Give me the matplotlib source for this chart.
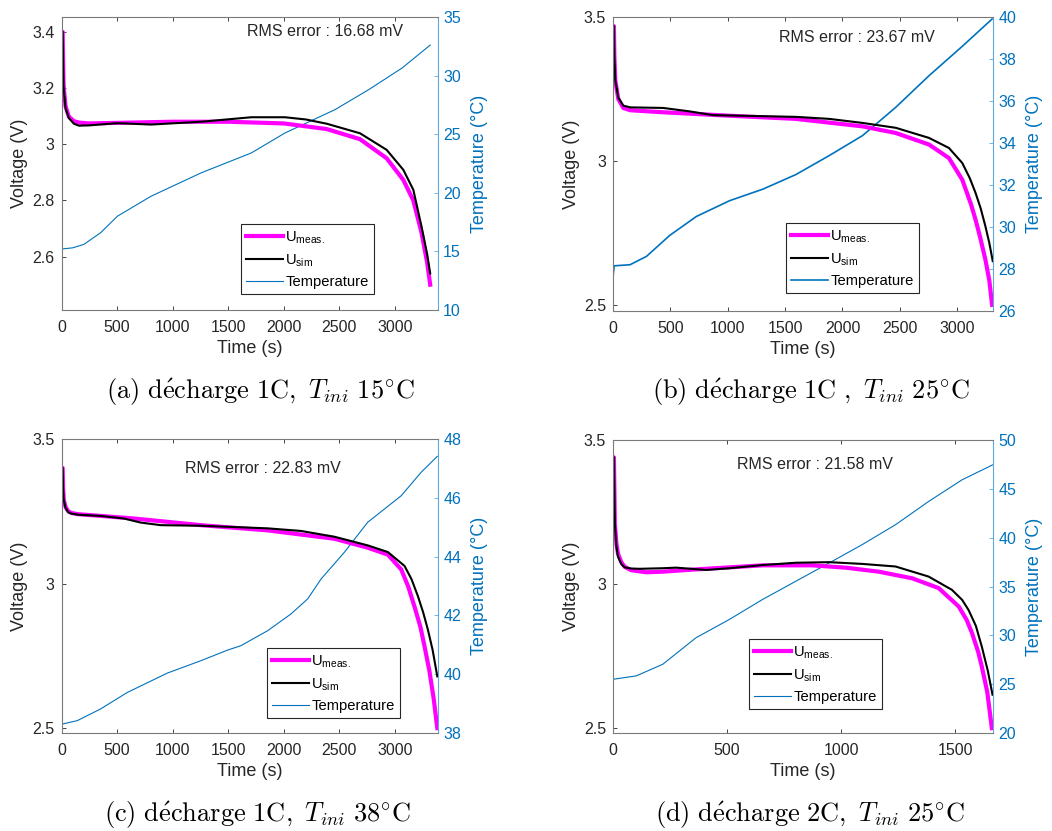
import matplotlib
matplotlib.use("Agg")
import matplotlib.pyplot as plt

plt.rcParams['font.family'] = ['Liberation Sans', 'DejaVu Sans']
plt.rcParams['mathtext.fontset'] = 'custom'
plt.rcParams['mathtext.rm'] = 'Liberation Sans'
plt.rcParams['mathtext.it'] = 'Liberation Sans:italic'

# ---- data (time in s, voltage in V, temperature in degC)
# (a) 1C, Tini 15 C
t_meas_a = [0, 10, 14, 18, 36, 66, 111, 157, 247, 500, 1000, 1500, 2000, 2386, 2686, 2926, 3076, 3166, 3240, 3290, 3318]
u_meas_a = [3.40, 3.40, 3.30, 3.21, 3.135, 3.098, 3.082, 3.077, 3.074, 3.076, 3.080, 3.080, 3.074, 3.054, 3.018, 2.95, 2.873, 2.80, 2.685, 2.58, 2.50]
t_sim_a = [0, 10, 14, 18, 36, 66, 111, 157, 247, 503, 805, 1257, 1709, 2011, 2200, 2386, 2686, 2926, 3076, 3166, 3240, 3290, 3318]
u_sim_a = [3.40, 3.40, 3.30, 3.205, 3.128, 3.093, 3.073, 3.066, 3.067, 3.075, 3.07, 3.08, 3.096, 3.096, 3.088, 3.073, 3.039, 2.98, 2.909, 2.838, 2.707, 2.61, 2.54]
t_temp_a = [0, 100, 202, 353, 503, 805, 1257, 1709, 2011, 2463, 2765, 3066, 3318]
temp_a = [15.2, 15.3, 15.6, 16.6, 18.0, 19.7, 21.7, 23.4, 25.1, 27.1, 28.8, 30.65, 32.6]

# (b) 1C, Tini 25 C
t_meas_b = [0, 8, 12, 20, 46, 90, 150, 437, 1016, 1596, 2175, 2465, 2754, 2928, 3044, 3120, 3160, 3200, 3246, 3280, 3304]
u_meas_b = [3.468, 3.468, 3.36, 3.28, 3.215, 3.184, 3.176, 3.169, 3.157, 3.146, 3.12, 3.097, 3.057, 3.01, 2.935, 2.85, 2.796, 2.735, 2.657, 2.585, 2.50]
t_sim_b = [0, 8, 12, 20, 46, 90, 150, 437, 669, 872, 1596, 1885, 2175, 2465, 2754, 2928, 3044, 3110, 3160, 3205, 3246, 3280, 3310]
u_sim_b = [3.468, 3.468, 3.36, 3.28, 3.22, 3.192, 3.186, 3.184, 3.172, 3.159, 3.153, 3.146, 3.132, 3.115, 3.08, 3.045, 2.993, 2.94, 2.889, 2.835, 2.773, 2.715, 2.652]
t_temp_b = [0, 10, 148, 292, 495, 727, 1016, 1306, 1596, 1885, 2175, 2465, 2754, 3044, 3304]
temp_b = [27.6, 28.15, 28.2, 28.6, 29.6, 30.5, 31.25, 31.8, 32.5, 33.4, 34.35, 35.7, 37.2, 38.6, 39.9]

# (c) 1C, Tini 38 C
t_meas_c = [0, 10, 14, 20, 36, 60, 90, 150, 352, 652, 1254, 1855, 2456, 2756, 2937, 3057, 3120, 3177, 3230, 3267, 3310, 3350, 3382]
u_meas_c = [3.40, 3.40, 3.33, 3.29, 3.265, 3.25, 3.244, 3.24, 3.234, 3.225, 3.202, 3.184, 3.155, 3.124, 3.10, 3.049, 2.99, 2.92, 2.85, 2.783, 2.70, 2.60, 2.50]
t_sim_c = [0, 10, 14, 20, 36, 60, 90, 150, 352, 562, 712, 893, 1254, 1855, 2155, 2456, 2756, 2937, 3087, 3150, 3207, 3255, 3297, 3340, 3382]
u_sim_c = [3.40, 3.40, 3.33, 3.29, 3.262, 3.247, 3.242, 3.238, 3.234, 3.225, 3.211, 3.202, 3.20, 3.191, 3.182, 3.162, 3.132, 3.109, 3.061, 3.015, 2.957, 2.90, 2.841, 2.77, 2.679]
t_temp_c = [0, 141, 352, 592, 953, 1254, 1494, 1614, 1855, 2065, 2215, 2336, 2546, 2756, 3057, 3237, 3382]
temp_c = [38.3, 38.42, 38.82, 39.38, 40.04, 40.46, 40.82, 40.97, 41.48, 42.05, 42.56, 43.24, 44.15, 45.17, 46.07, 46.87, 47.41]

# (d) 2C, Tini 25 C
t_meas_d = [0, 4, 6, 8, 15, 22, 37, 51, 80, 146, 218, 364, 510, 655, 874, 1019, 1165, 1311, 1427, 1515, 1550, 1573, 1600, 1616, 1640, 1660]
u_meas_d = [3.44, 3.44, 3.33, 3.21, 3.14, 3.105, 3.075, 3.06, 3.048, 3.041, 3.043, 3.051, 3.058, 3.065, 3.065, 3.057, 3.043, 3.02, 2.986, 2.922, 2.875, 2.83, 2.765, 2.714, 2.625, 2.50]
t_sim_d = [0, 4, 6, 8, 15, 22, 37, 51, 80, 117, 218, 277, 408, 510, 655, 801, 947, 1092, 1238, 1383, 1485, 1530, 1558, 1590, 1616, 1642, 1663]
u_sim_d = [3.44, 3.44, 3.33, 3.211, 3.13, 3.095, 3.069, 3.058, 3.054, 3.053, 3.055, 3.057, 3.049, 3.055, 3.066, 3.074, 3.076, 3.07, 3.061, 3.026, 2.98, 2.945, 2.91, 2.855, 2.783, 2.70, 2.616]
t_temp_d = [0, 102, 218, 364, 510, 655, 801, 947, 1092, 1238, 1383, 1529, 1663]
temp_d = [25.5, 25.85, 27.04, 29.76, 31.63, 33.67, 35.54, 37.41, 39.29, 41.33, 43.71, 45.92, 47.45]

rms_texts = ['RMS error : 16.68 mV', 'RMS error : 23.67 mV', 'RMS error : 22.83 mV', 'RMS error : 21.58 mV']
captions = [r'$\mathrm{(a)\ d\acute{e}charge\ 1C,}\ T_{ini}\ \mathrm{15^{\circ}C}$',
            r'$\mathrm{(b)\ d\acute{e}charge\ 1C\ ,}\ T_{ini}\ \mathrm{25^{\circ}C}$',
            r'$\mathrm{(c)\ d\acute{e}charge\ 1C,}\ T_{ini}\ \mathrm{38^{\circ}C}$',
            r'$\mathrm{(d)\ d\acute{e}charge\ 2C,}\ T_{ini}\ \mathrm{25^{\circ}C}$']

panels = [
    dict(tm=t_meas_a, um=u_meas_a, ts=t_sim_a, us=u_sim_a, tt=t_temp_a, T=temp_a,
         rect=[0.0585, 0.627, 0.3575, 0.3526], xlim=(0, 3385), ylim=(2.41, 3.453),
         yticks=[2.6, 2.8, 3.0, 3.2, 3.4], ylabels=['2.6', '2.8', '3', '3.2', '3.4'],
         xticks=range(0, 3001, 500), tlim=(10, 35), tticks=range(10, 36, 5),
         rms=(0.70, 0.949), leg=(241, 224), cap=(260, 392), tlw=0.8),
    dict(tm=t_meas_b, um=u_meas_b, ts=t_sim_b, us=u_sim_b, tt=t_temp_b, T=temp_b,
         rect=[0.5827, 0.6258, 0.3612, 0.3538], xlim=(0, 3312), ylim=(2.479, 3.5),
         yticks=[2.5, 3.0, 3.5], ylabels=['2.5', '3', '3.5'],
         xticks=range(0, 3001, 500), tlim=(26, 40), tticks=range(26, 41, 2),
         rms=(0.642, 0.929), leg=(786, 223), cap=(811, 392), tlw=1.2),
    dict(tm=t_meas_c, um=u_meas_c, ts=t_sim_c, us=u_sim_c, tt=t_temp_c, T=temp_c,
         rect=[0.0585, 0.1179, 0.3575, 0.3538], xlim=(0, 3385), ylim=(2.483, 3.5),
         yticks=[2.5, 3.0, 3.5], ylabels=['2.5', '3', '3.5'],
         xticks=range(0, 3001, 500), tlim=(38, 48), tticks=range(38, 49, 2),
         rms=(0.536, 0.901), leg=(267, 648), cap=(258, 815), tlw=0.8),
    dict(tm=t_meas_d, um=u_meas_d, ts=t_sim_d, us=u_sim_d, tt=t_temp_d, T=temp_d,
         rect=[0.5827, 0.1179, 0.3612, 0.3526], xlim=(0, 1665), ylim=(2.483, 3.5),
         yticks=[2.5, 3.0, 3.5], ylabels=['2.5', '3', '3.5'],
         xticks=range(0, 1501, 500), tlim=(20, 50), tticks=range(20, 51, 5),
         rms=(0.532, 0.918), leg=(749, 639), cap=(810, 815), tlw=0.8),
]

W, H = 1052, 831
fig = plt.figure(figsize=(W / 100, H / 100), dpi=100)

blue = '#0072BD'
blue_light = '#5DA8DC'
gray = '#7a7a7a'
dark = '#262626'

for p, rms, cap in zip(panels, rms_texts, captions):
    ax = fig.add_axes(p['rect'])
    ax2 = ax.twinx()
    ax.set_zorder(ax2.get_zorder() + 1)
    ax.patch.set_visible(False)

    l3, = ax2.plot(p['tt'], p['T'], color=blue, lw=p['tlw'], label='Temperature')
    l1, = ax.plot(p['tm'], p['um'], color='#FF00FF', lw=3, label=r'U$_{\mathrm{meas.}}$')
    l2, = ax.plot(p['ts'], p['us'], color='black', lw=1.5, label=r'U$_{\mathrm{sim}}$')

    ax.set_xlim(*p['xlim'])
    ax.set_ylim(*p['ylim'])
    ax.set_yticks(p['yticks'], labels=p['ylabels'])
    ax.set_xticks(list(p['xticks']))
    ax2.set_ylim(*p['tlim'])
    ax2.set_yticks(list(p['tticks']))

    ax.tick_params(axis='both', direction='in', labelsize=11.5, length=3,
                   top=True, colors=dark, labelcolor=dark, width=0.6)
    ax.tick_params(axis='x', pad=7)
    ax.tick_params(axis='y', pad=5)
    ax2.tick_params(axis='y', direction='in', labelsize=11.5, length=3, pad=4,
                    colors=blue_light, labelcolor=blue, width=0.6)
    for s in ['top', 'bottom', 'left']:
        ax.spines[s].set_color(gray)
        ax.spines[s].set_linewidth(0.8)
    ax.spines['right'].set_visible(False)
    for s in ['top', 'bottom', 'left']:
        ax2.spines[s].set_visible(False)
    ax2.spines['right'].set_color(blue_light)
    ax2.spines['right'].set_linewidth(0.8)

    ax.set_xlabel('Time (s)', fontsize=13, color=dark, labelpad=4)
    ax.set_ylabel('Voltage (V)', fontsize=13, color=dark, labelpad=3)
    ax2.set_ylabel('Temperature (°C)', fontsize=13, color=blue, labelpad=7)

    ax.text(p['rms'][0], p['rms'][1], rms, transform=ax.transAxes,
            ha='center', va='center', fontsize=11.5, color=dark)

    lx, ly = p['leg']
    leg = ax.legend(handles=[l1, l2, l3], loc='upper left',
                    bbox_to_anchor=(lx / W, 1 - ly / H), bbox_transform=fig.transFigure,
                    fontsize=10.6, frameon=True, fancybox=False, framealpha=1,
                    edgecolor=dark, handlelength=2.5, handletextpad=0.15,
                    labelspacing=0.45, borderpad=0.35, borderaxespad=0)
    leg.get_frame().set_linewidth(0.8)

    cx, cy = p['cap']
    fig.text(cx / W, 1 - cy / H, cap, ha='center', va='center', fontsize=19,
             math_fontfamily='cm')

fig.savefig('out.png', dpi=100)
